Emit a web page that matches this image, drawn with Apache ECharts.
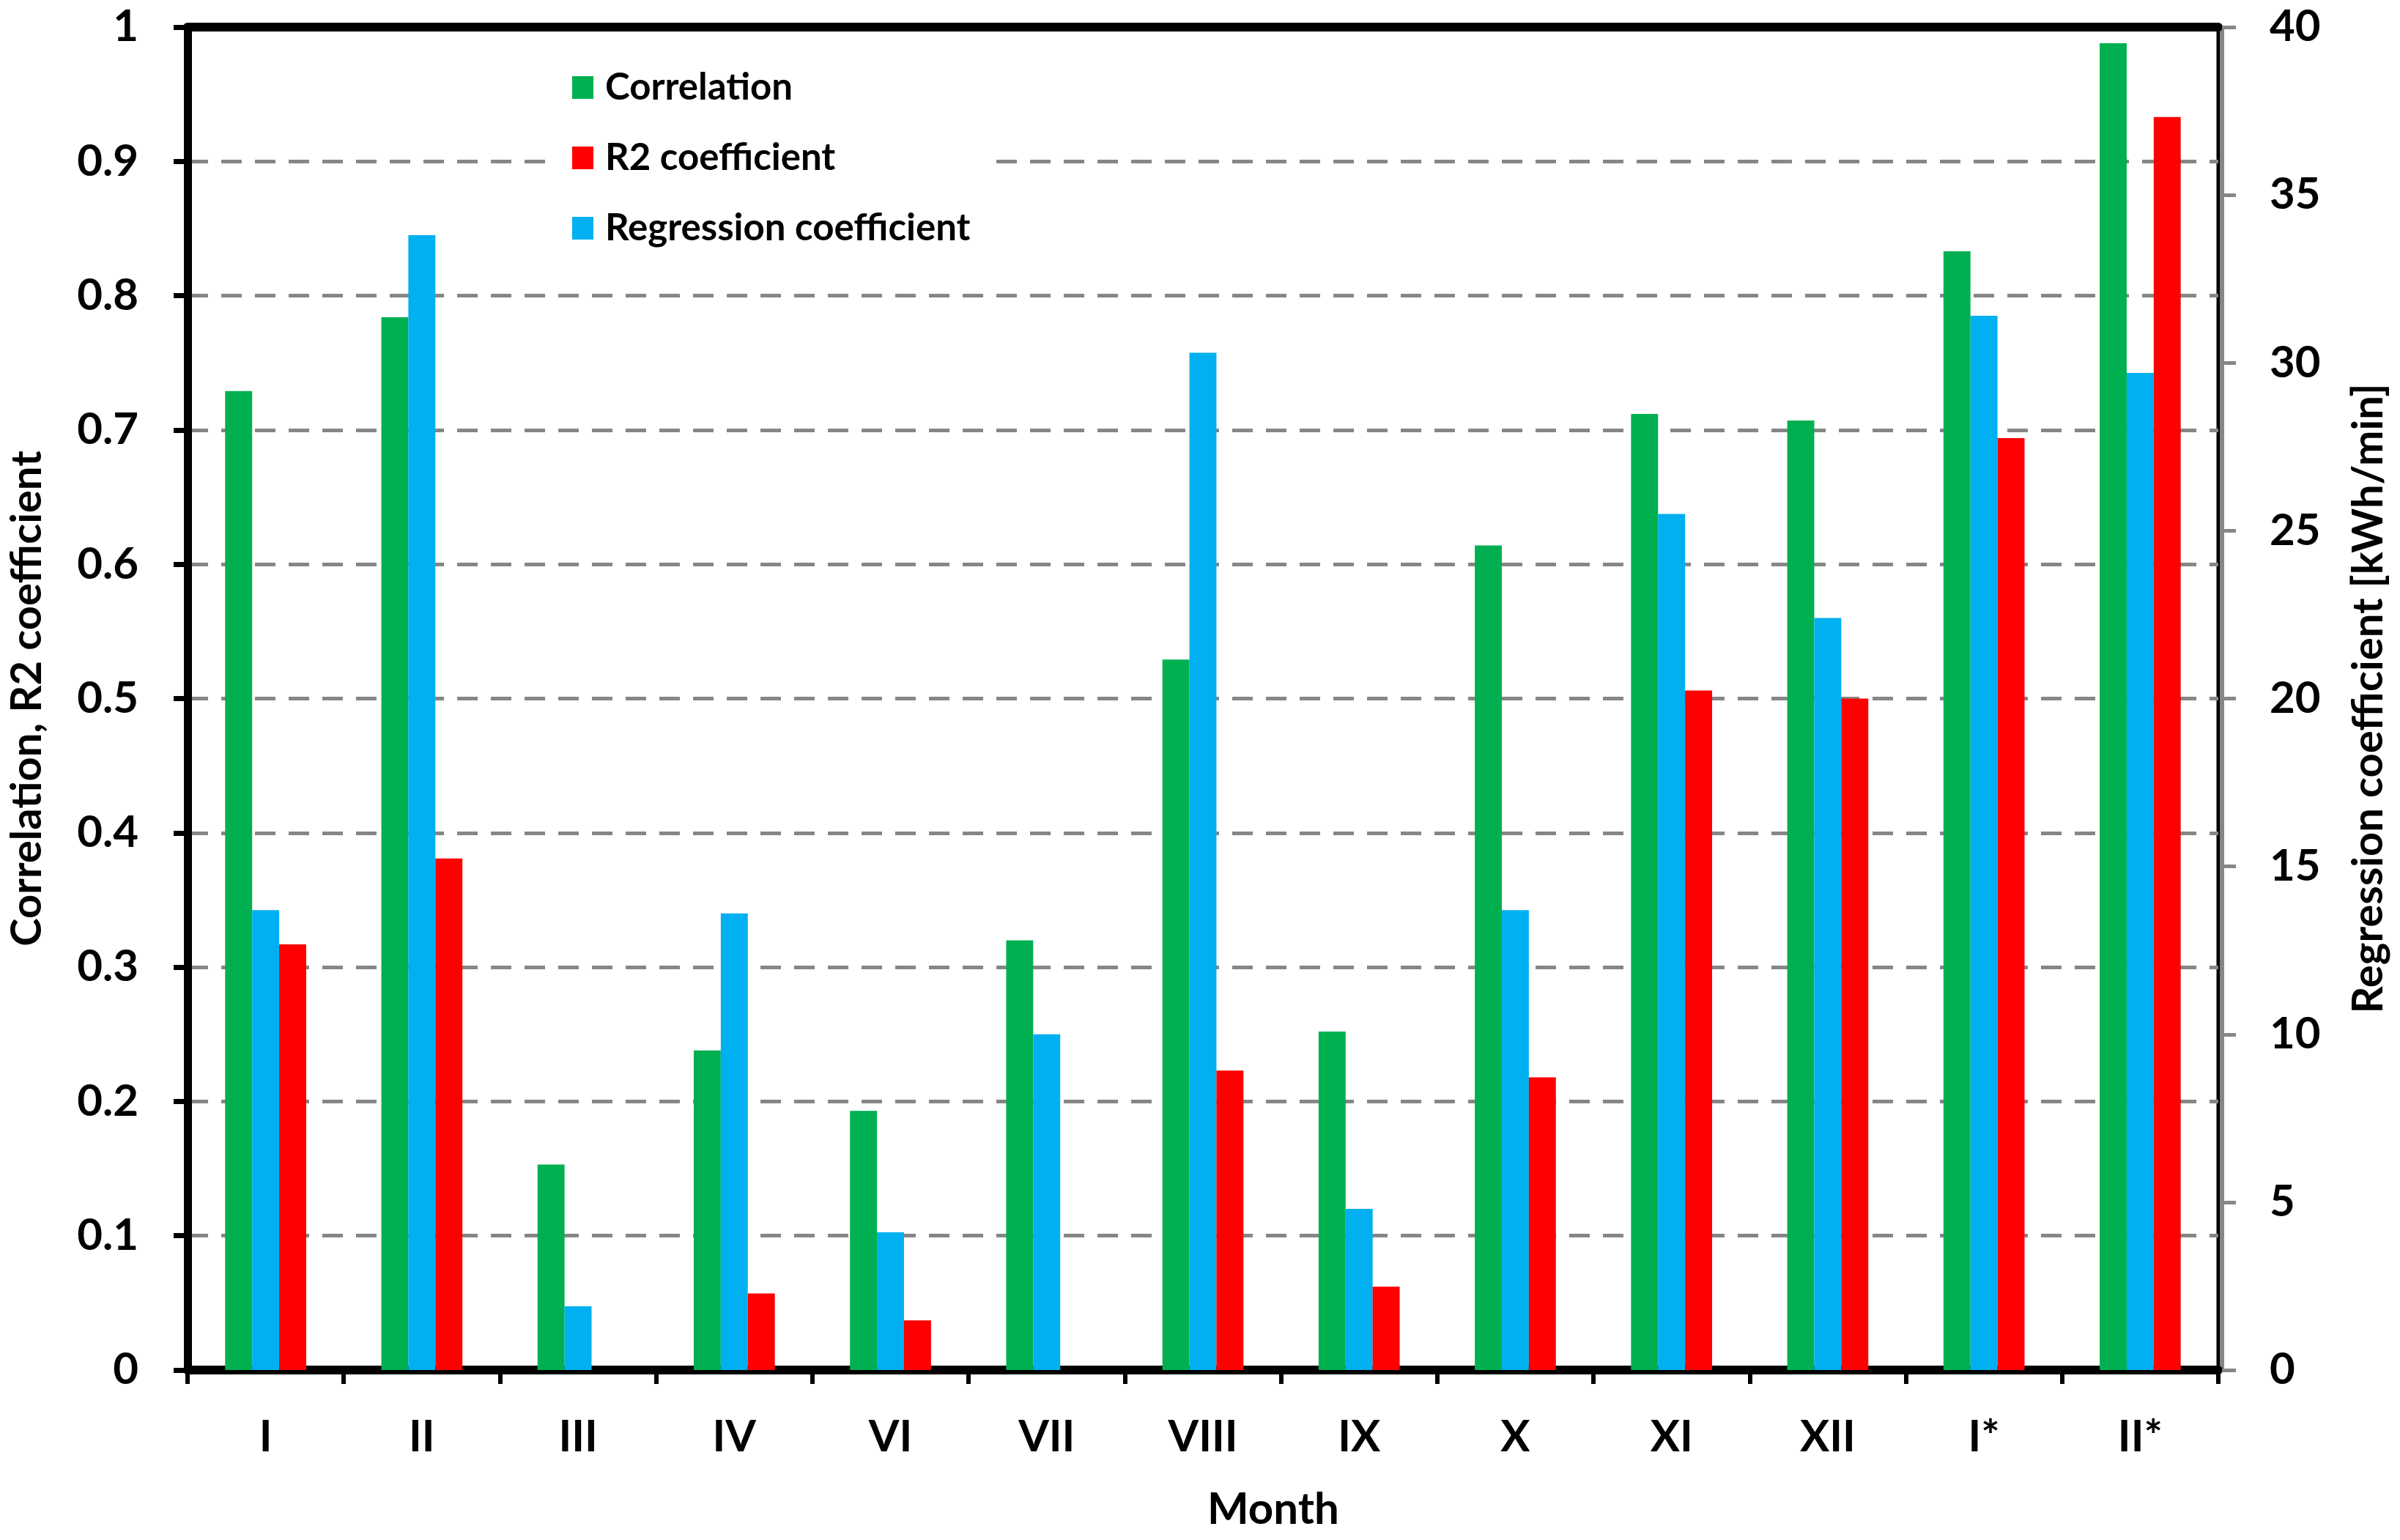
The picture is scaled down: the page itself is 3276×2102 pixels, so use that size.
<!DOCTYPE html>
<html>
<head>
<meta charset="utf-8">
<script src="https://cdn.jsdelivr.net/npm/echarts@6/dist/echarts.min.js"></script>
<style>
html,body{margin:0;padding:0;background:#fff;}
#c{width:3276px;height:2102px;}
</style>
</head>
<body>
<div id="c"></div>
<script>
// ---- data ----
const months = ['I','II','III','IV','VI','VII','VIII','IX','X','XI','XII','I*','II*'];
const correlation = [0.729,0.784,0.153,0.238,0.193,0.320,0.529,0.252,0.614,0.712,0.707,0.833,0.988];
const r2Coefficient = [0.317,0.381,null,0.057,0.037,null,0.223,0.062,0.218,0.506,0.500,0.694,0.933];
const regressionCoefficient = [13.7,33.8,1.9,13.6,4.1,10.0,30.3,4.8,13.7,25.5,22.4,31.4,29.7];
const leftTicks = {min:0,max:1,interval:0.1};
const rightTicks = {min:0,max:40,interval:5};

const FONT = 'Lato';
const chart = echarts.init(document.getElementById('c'), null, {renderer:'canvas'});
const barW = '17.3%';
chart.setOption({
  animation:false,
  backgroundColor:'#fff',
  textStyle:{fontFamily:FONT},
  grid:{left:256,right:248,top:37,bottom:232,containLabel:false,show:true,borderColor:'#000',borderWidth:5,backgroundColor:'transparent'},
  legend:{
    orient:'vertical',left:754,top:54,
    padding:[40,20,40,27],
    backgroundColor:'#fff',
    itemWidth:29,itemHeight:31,itemGap:45,
    icon:'rect',
    data:['Correlation','R2 coefficient','Regression coefficient'],
    textStyle:{fontFamily:FONT,fontWeight:'bold',fontSize:51,color:'#000',lineHeight:50,padding:[0,0,0,11]}
  },
  xAxis:[{
    type:'category',data:months,position:'bottom',
    axisLine:{show:true,onZero:false,lineStyle:{color:'#000',width:12}},
    axisTick:{show:true,alignWithLabel:false,length:19,lineStyle:{color:'#000',width:6}},
    axisLabel:{color:'#000',fontFamily:FONT,fontWeight:'bold',fontSize:60,margin:62,interval:0},
    splitLine:{show:false},
    name:'Month',nameLocation:'middle',nameGap:161,
    nameTextStyle:{color:'#000',fontFamily:FONT,fontWeight:'bold',fontSize:60,padding:[0,0,0,192]}
  },{
    type:'category',data:months,position:'top',
    axisLine:{show:true,onZero:false,lineStyle:{color:'#000',width:12}},
    axisTick:{show:false},axisLabel:{show:false},splitLine:{show:false}
  }],
  yAxis:[{
    type:'value',position:'left',min:leftTicks.min,max:leftTicks.max,interval:leftTicks.interval,
    axisLine:{show:true,lineStyle:{color:'#000',width:11}},
    axisTick:{show:true,inside:false,length:19,lineStyle:{color:'#000',width:7}},
    axisLabel:{color:'#000',fontFamily:FONT,fontWeight:'bold',fontSize:60,margin:67},
    splitLine:{show:true,lineStyle:{color:'#868686',width:5,type:[28,18]}},
    name:'Correlation, R2 coefficient',nameLocation:'middle',nameGap:190,nameRotate:90,
    nameTextStyle:{color:'#000',fontFamily:FONT,fontWeight:'bold',fontSize:58}
  },{
    type:'value',position:'right',min:rightTicks.min,max:rightTicks.max,interval:rightTicks.interval,offset:5,
    axisLine:{show:true,lineStyle:{color:'#868686',width:5}},
    axisTick:{show:true,inside:false,length:19,lineStyle:{color:'#868686',width:5}},
    axisLabel:{color:'#000',fontFamily:FONT,fontWeight:'bold',fontSize:60,margin:65},
    splitLine:{show:false},
    name:'Regression coefficient [kWh/min]',nameLocation:'middle',nameGap:171,nameRotate:90,
    nameTextStyle:{color:'#000',fontFamily:FONT,fontWeight:'bold',fontSize:58}
  }],
  series:[
    {name:'Correlation',type:'bar',xAxisIndex:0,yAxisIndex:0,data:correlation,barWidth:barW,barGap:'0%',itemStyle:{color:'#00B050'}},
    {name:'Regression coefficient',type:'bar',xAxisIndex:0,yAxisIndex:1,data:regressionCoefficient,barWidth:barW,barGap:'0%',itemStyle:{color:'#00B0F0'}},
    {name:'R2 coefficient',type:'bar',xAxisIndex:0,yAxisIndex:0,data:r2Coefficient,barWidth:barW,barGap:'0%',itemStyle:{color:'#FF0000'}}
  ]
});
</script>
</body>
</html>
